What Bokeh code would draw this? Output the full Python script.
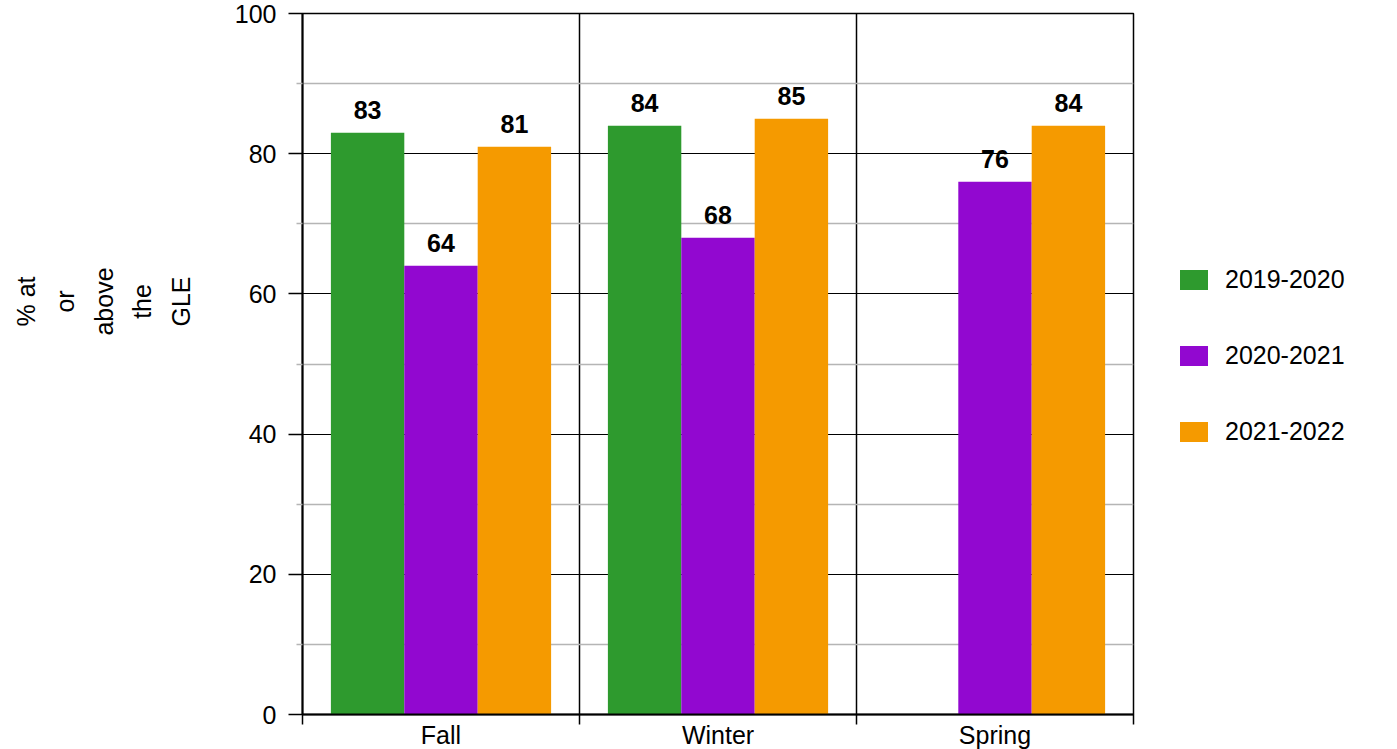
from bokeh.plotting import figure
from bokeh.models import (ColumnDataSource, FixedTicker, LabelSet, Legend, LegendItem)
from bokeh.core.properties import value
from bokeh.transform import dodge
from bokeh.embed import file_html
from bokeh.resources import INLINE

seasons = ["Fall", "Winter", "Spring"]
years = ["2019-2020", "2020-2021", "2021-2022"]
values_2019_2020 = [83, 84, None]
values_2020_2021 = [64, 68, 76]
values_2021_2022 = [81, 85, 84]
colors = ["#2e9a2e", "#9208d0", "#f59a00"]
y_ticks = [0, 20, 40, 60, 80, 100]
y_minor = [10, 30, 50, 70, 90]
axis_title_words = ["% at", "or", "above", "the", "GLE"]

FONT = "Liberation Sans"
PAD = "\u00a0" * 18  # shifts the centred title block toward the top

p = figure(frame_width=831, frame_height=701, x_range=(0, 3), y_range=(0, 100),
           output_backend="svg", toolbar_location=None,
           min_border_left=302, min_border_right=0, min_border_top=13, min_border_bottom=35)
p.outline_line_color = "black"
p.outline_line_width = 1.5

series = [values_2019_2020, values_2020_2021, values_2021_2022]
offsets = [-0.265, 0.0, 0.265]
items = []
for name, vals, col, off in zip(years, series, colors, offsets):
    xs = [i + 0.5 for i, v in enumerate(vals) if v is not None]
    ys = [v for v in vals if v is not None]
    src = ColumnDataSource(dict(x=xs, top=ys, lbl=[str(v) for v in ys]))
    r = p.vbar(x=dodge("x", off), top="top", bottom=0, width=0.265, source=src,
               fill_color=col, line_color=None)
    items.append(LegendItem(label=name, renderers=[r]))
    ls = LabelSet(x=dodge("x", off), y="top", text="lbl", source=src, y_offset=14,
                  text_align="center", text_baseline="alphabetic",
                  text_font=value(FONT), text_font_size=value("25px"),
                  text_font_style=value("bold"), text_color=value("black"))
    p.add_layout(ls)

# x axis
p.xaxis.ticker = FixedTicker(ticks=[0.5, 1.5, 2.5], minor_ticks=[0, 1, 2, 3])
p.xaxis.major_label_overrides = {0.5: seasons[0], 1.5: seasons[1], 2.5: seasons[2]}
p.xaxis.major_tick_out = 0
p.xaxis.major_tick_in = 0
p.xaxis.minor_tick_out = 10
p.xaxis.minor_tick_in = 0
p.xaxis.minor_tick_line_color = "black"
p.xaxis.minor_tick_line_width = 1.5
p.xaxis.axis_line_width = 2
p.xaxis.axis_line_color = "black"
p.xaxis.major_label_standoff = -4
p.xaxis.major_label_text_font = FONT
p.xaxis.major_label_text_font_size = "25px"
p.xaxis.major_label_text_color = "black"

# y axis
yax = p.yaxis[0]
yax.ticker = FixedTicker(ticks=y_ticks, minor_ticks=y_minor)
yax.major_tick_out = 14
yax.major_tick_in = 0
yax.major_tick_line_width = 1.5
yax.major_tick_line_color = "black"
yax.minor_tick_out = 6
yax.minor_tick_in = 0
yax.minor_tick_line_color = "#b5b5b5"
yax.minor_tick_line_width = 1.5
yax.axis_line_width = 2
yax.axis_line_color = "black"
yax.major_label_standoff = 12
yax.major_label_text_font = FONT
yax.major_label_text_font_size = "25px"
yax.major_label_text_color = "black"

# axis title (multi-line, rotated)
yax.axis_label = "\n".join(PAD + w for w in axis_title_words)
yax.axis_label_standoff = 37
yax.axis_label_text_font = FONT
yax.axis_label_text_font_size = "25px"
yax.axis_label_text_font_style = "normal"
yax.axis_label_text_color = "black"
yax.axis_label_text_line_height = 1.38
yax.axis_label_text_align = "center"

# grids
p.ygrid.ticker = FixedTicker(ticks=y_ticks, minor_ticks=y_minor)
p.ygrid.grid_line_color = "black"
p.ygrid.grid_line_width = 1.2
p.ygrid.minor_grid_line_color = "#b5b5b5"
p.ygrid.minor_grid_line_width = 1.5
p.xgrid.ticker = FixedTicker(ticks=[1, 2])
p.xgrid.grid_line_color = "black"
p.xgrid.grid_line_width = 1.5

legend = Legend(items=items, location=(43, 268), orientation="vertical",
                glyph_width=35, glyph_height=25, label_height=25, spacing=47,
                label_standoff=14, padding=0, margin=0,
                border_line_color=None, background_fill_alpha=0,
                label_text_font=FONT, label_text_font_size="25px", label_text_color="black")
p.add_layout(legend, "right")

open("out.html", "w").write(file_html(p, INLINE))
